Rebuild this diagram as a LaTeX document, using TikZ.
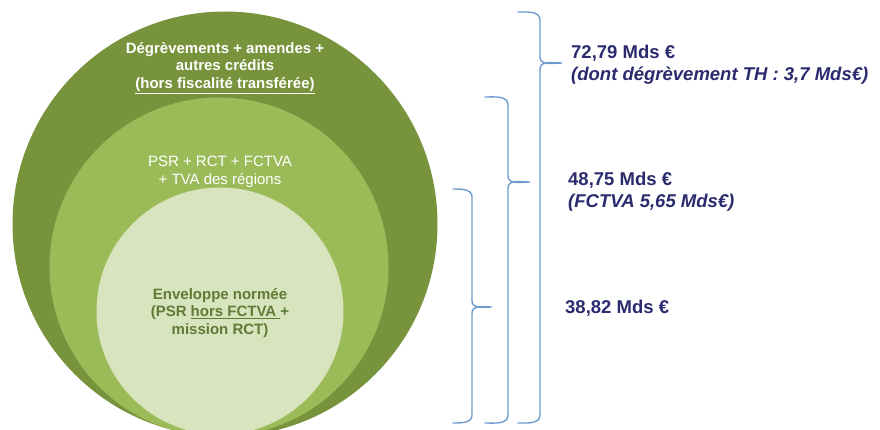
\documentclass[tikz,border=0pt]{standalone}
\usepackage{fontspec}
\setmainfont{Liberation Sans}
\definecolor{Out}{HTML}{77933C}
\definecolor{Mid}{HTML}{9BBB59}
\definecolor{Nor}{HTML}{D7E4BD}
\definecolor{Nortxt}{HTML}{5F7B35}
\definecolor{brace}{HTML}{6E9AD0}
\definecolor{amount}{HTML}{2A2A6E}

\begin{document}
\begin{tikzpicture}[x=1pt, y=-1pt,
    lbl/.style={align=center, inner sep=0pt, font=\fontsize{15}{17.5}\selectfont},
    lblb/.style={align=center, inner sep=0pt, font=\bfseries\fontsize{15}{17.5}\selectfont},
    amt/.style={anchor=west, align=left, inner sep=0pt, text=amount, font=\bfseries\fontsize{18.5}{22}\selectfont},
    brc/.style={draw=brace, line width=1.4pt, line cap=round}]
    \useasboundingbox (0,0) rectangle (880,430);
    \clip (0,0) rectangle (880,430);

    \fill[Out] (225,224) circle [radius=212.5];
    \fill[Mid] (219,267) circle [radius=169.5];
    \fill[Nor] (220,311) circle [radius=123.5];

    \node at (225,68) (Deg) [lblb, text=white] {D\'egr\`evements + amendes +\\autres cr\'edits\\\underline{(hors fiscalit\'e transf\'er\'ee)}};
    \node at (220,172) (Psr) [lbl, text=white] {PSR + RCT + FCTVA\\+ TVA des r\'egions};
    \node at (220,313) (Env) [lblb, text=Nortxt] {Enveloppe norm\'ee\\(PSR \underline{hors FCTVA\ }+\\mission RCT)};

    \draw[brc] (518,12) to[out=0,in=90] (540,20) -- (540,57) to[out=-90,in=180] (562,63)
        to[out=180,in=90] (540,69) -- (540,415) to[out=-90,in=0] (518,423);
    \draw[brc] (485,97) to[out=0,in=90] (508,105) -- (508,176) to[out=-90,in=180] (530,182)
        to[out=180,in=90] (508,188) -- (508,415) to[out=-90,in=0] (485,423);
    \draw[brc] (453,189) to[out=0,in=90] (472,197) -- (472,301) to[out=-90,in=180] (492,307)
        to[out=180,in=90] (472,313) -- (472,415) to[out=-90,in=0] (453,423);

    \node at (571,65) (Tot) [amt] {72,79 Mds €\\\textit{(dont d\'egr\`evement TH : 3,7 Mds€)}};
    \node at (568,192) (Dot) [amt] {48,75 Mds €\\\textit{(FCTVA 5,65 Mds€)}};
    \node at (565,308) (Env2) [amt] {38,82 Mds €};
\end{tikzpicture}
\end{document}
